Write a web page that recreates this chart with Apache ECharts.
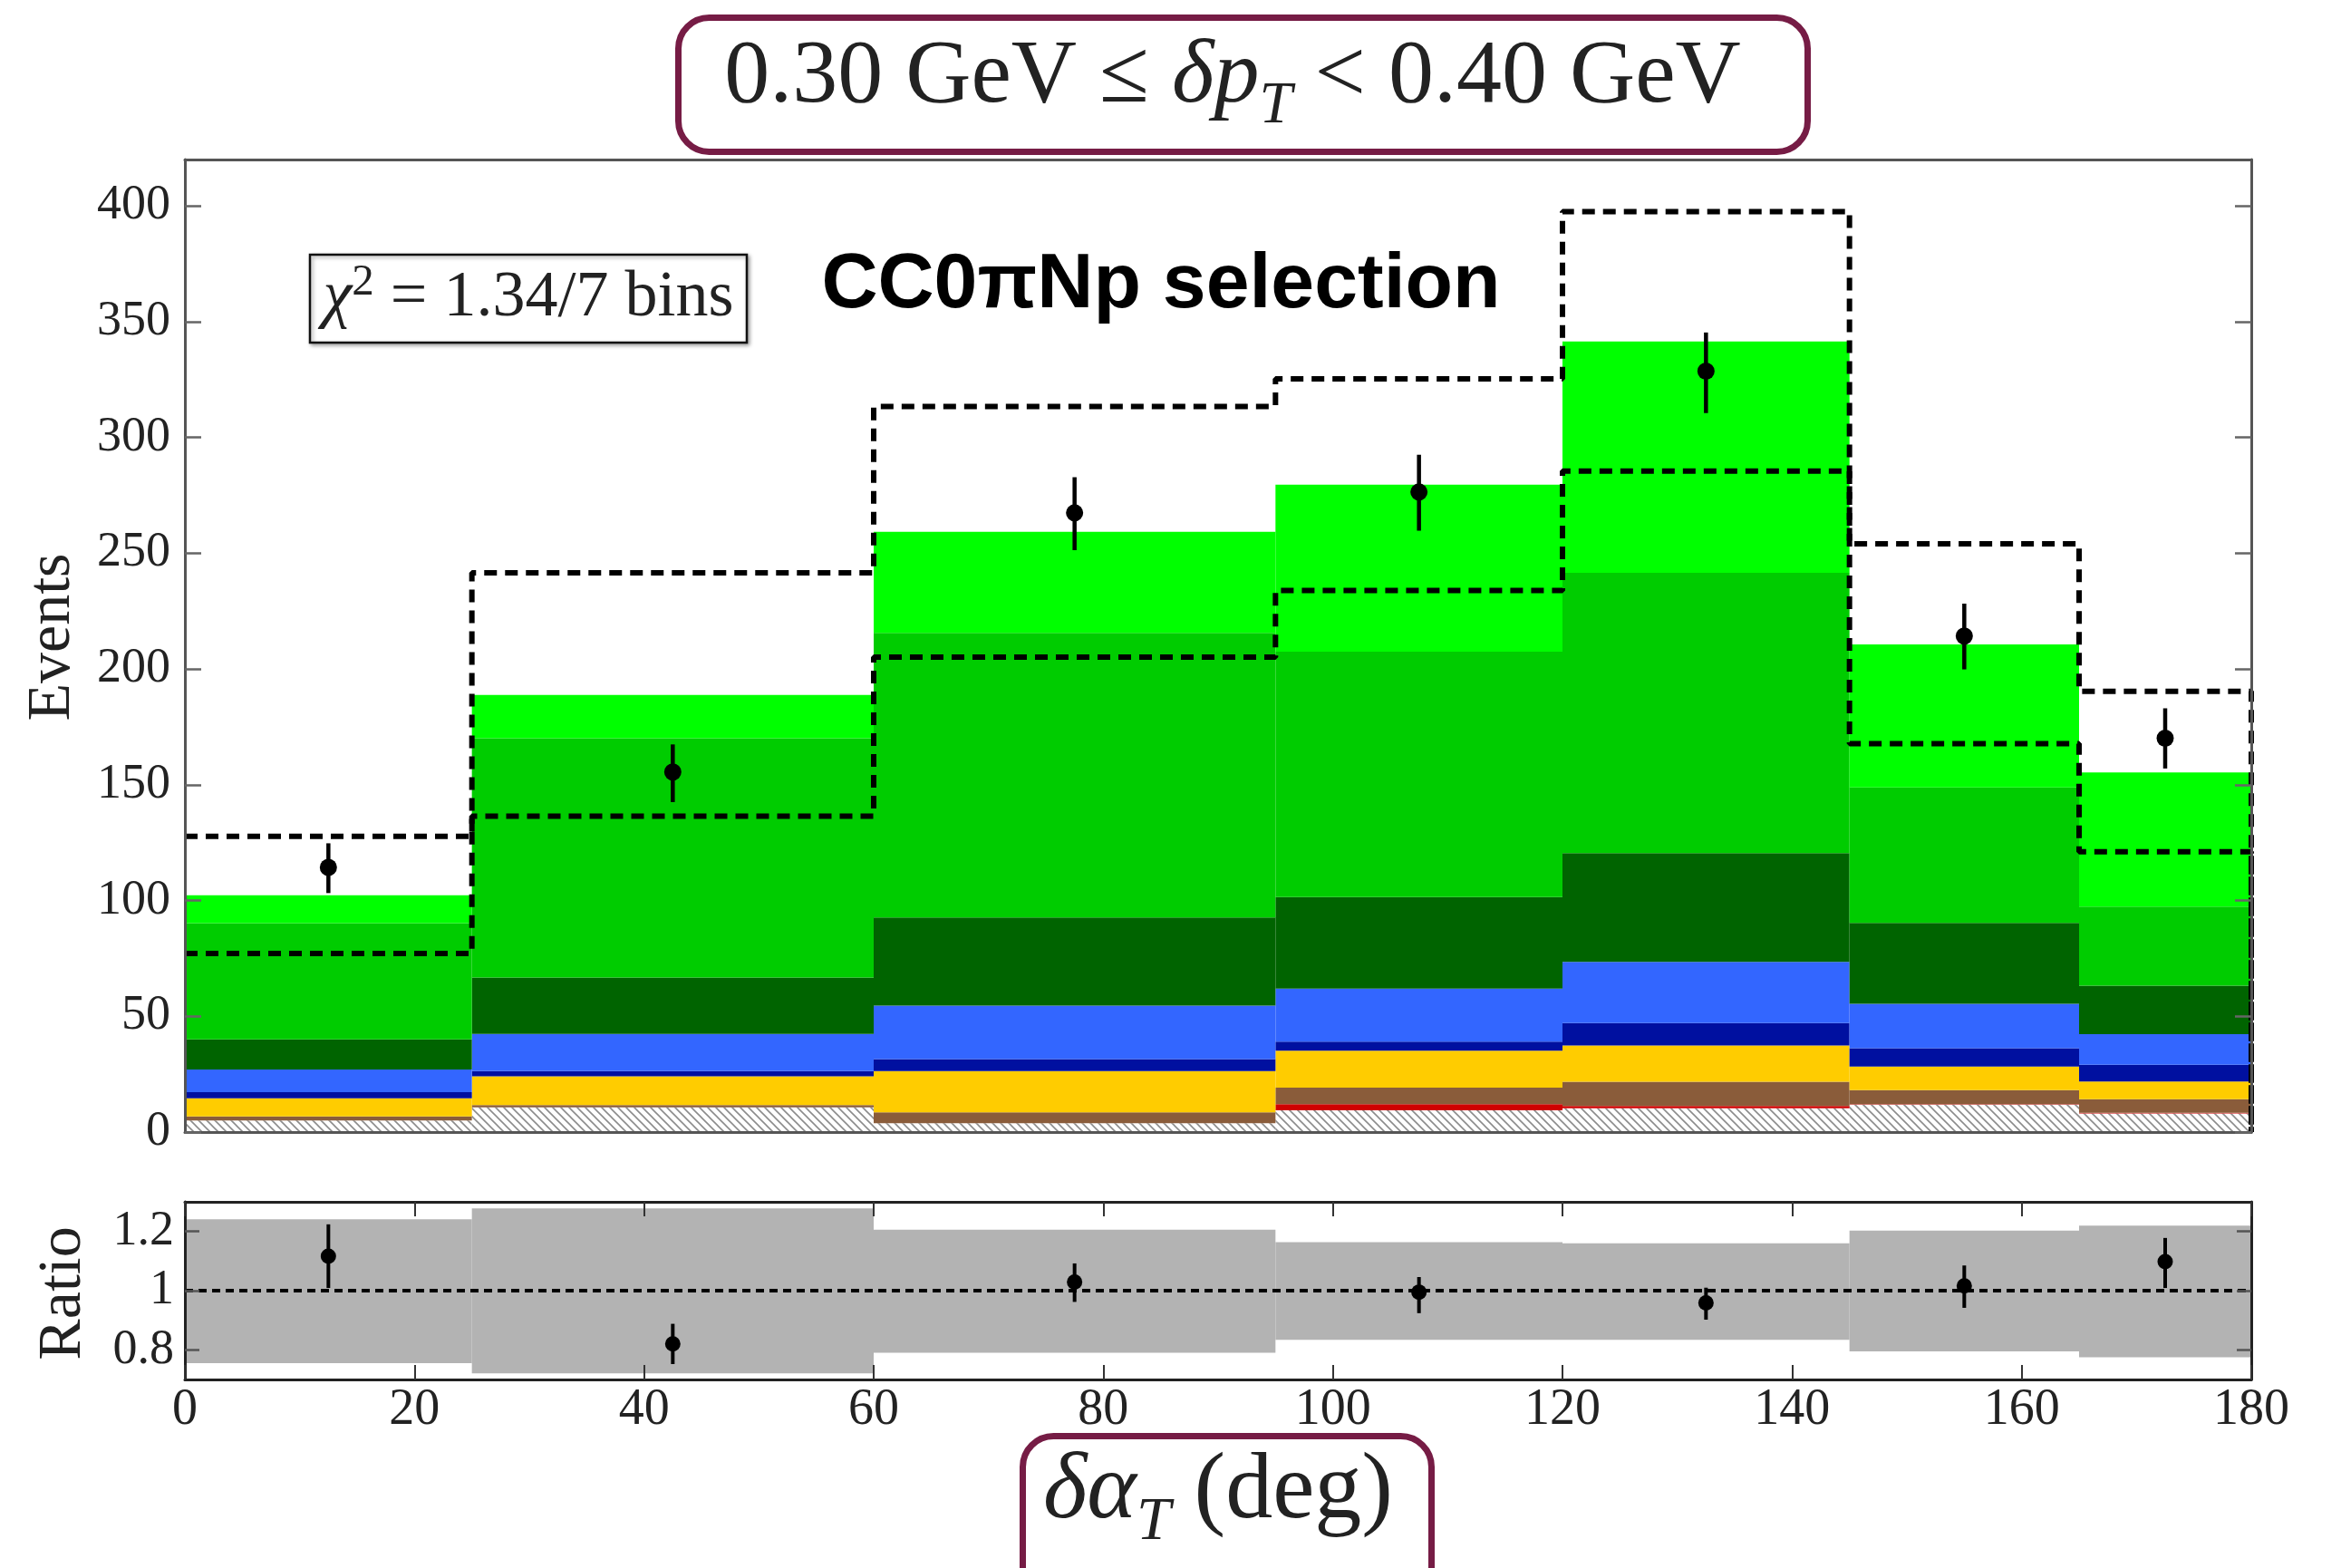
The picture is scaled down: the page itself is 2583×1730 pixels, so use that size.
<!DOCTYPE html>
<html><head><meta charset="utf-8">
<script src="https://cdn.jsdelivr.net/npm/echarts@6/dist/echarts.min.js"></script>
<style>html,body{margin:0;padding:0;background:#fff}#c{width:2583px;height:1730px}</style>
</head><body><div id="c"></div>
<script>
// ---------- DATA ----------
const binEdges = [0, 25, 60, 95, 120, 145, 165, 180];
// stacked contributions (bottom -> top)
const hatched    = [5.0, 10.7, 3.8, 9.4, 10.3, 11.8, 8.0];
const redLayer   = [0, 0, 0, 2.6, 1.0, 0.2, 0.3];
const brown      = [1.8, 0.9, 4.7, 7.2, 10.4, 6.1, 5.9];
const yellow     = [7.8, 12.5, 17.8, 15.9, 15.7, 10.2, 7.6];
const navy       = [2.6, 2.2, 5.2, 3.9, 9.7, 7.9, 7.3];
const blue       = [9.8, 16.1, 23.1, 22.9, 26.4, 19.2, 13.2];
const darkGreen  = [13.0, 24.3, 38.1, 39.6, 47.0, 34.9, 20.9];
const midGreen   = [50.2, 103.4, 122.9, 106.0, 121.0, 58.5, 34.2];
const lightGreen = [12.1, 18.7, 43.6, 72.1, 99.9, 61.8, 57.9];
const dashedUpper = [127.7, 241.5, 313.3, 325.3, 397.5, 254.0, 190.3];
const dashedLower = [77.1, 136.4, 205.1, 233.9, 285.4, 167.7, 121.0];
const dataX  = [12.5, 42.5, 77.5, 107.5, 132.5, 155, 172.5];
const dataY  = [114.3, 155.5, 267.4, 276.4, 328.6, 214.2, 170.1];
const dataLo = [103.2, 142.5, 251.3, 259.7, 310.5, 199.8, 157.0];
const dataHi = [124.7, 167.4, 282.8, 292.5, 345.3, 228.2, 183.0];
const ratioBandLo = [0.755, 0.721, 0.790, 0.834, 0.834, 0.795, 0.775];
const ratioBandHi = [1.241, 1.278, 1.206, 1.164, 1.160, 1.203, 1.220];
const ratioY  = [1.116, 0.820, 1.029, 0.995, 0.959, 1.016, 1.098];
const ratioLo = [1.009, 0.752, 0.962, 0.924, 0.902, 0.942, 1.009];
const ratioHi = [1.224, 0.888, 1.092, 1.046, 1.010, 1.085, 1.178];
const ratioRef = 1;
const yTicks = [0, 50, 100, 150, 200, 250, 300, 350, 400];
const ratioTicks = [0.8, 1, 1.2];
const xTickInterval = 20;

// ---------- HELPERS ----------
function hatchPattern() {
  const s = 9, c = document.createElement('canvas');
  c.width = s; c.height = s;
  const g = c.getContext('2d');
  g.fillStyle = '#fff'; g.fillRect(0, 0, s, s);
  g.strokeStyle = '#8c8c8c'; g.lineWidth = 1.6;
  g.beginPath();
  g.moveTo(0, 0); g.lineTo(s, s);
  g.moveTo(-2, s - 2); g.lineTo(2, s + 2);
  g.moveTo(s - 2, -2); g.lineTo(s + 2, 2);
  g.stroke();
  return c;
}
const layers = [
  {name: 'hatched', vals: hatched, fill: {image: hatchPattern(), repeat: 'repeat'}},
  {name: 'red', vals: redLayer, fill: '#d00000'},
  {name: 'brown', vals: brown, fill: '#8a5c3a'},
  {name: 'yellow', vals: yellow, fill: '#ffcc00'},
  {name: 'navy', vals: navy, fill: '#0010a0'},
  {name: 'blue', vals: blue, fill: '#3366ff'},
  {name: 'darkGreen', vals: darkGreen, fill: '#006400'},
  {name: 'midGreen', vals: midGreen, fill: '#00cc00'},
  {name: 'lightGreen', vals: lightGreen, fill: '#00ff00'}
];
function rectItem(fill) {
  return function (params, api) {
    const a = api.coord([api.value(0), api.value(2)]);
    const b = api.coord([api.value(1), api.value(3)]);
    return {type: 'rect', shape: {x: a[0], y: b[1], width: b[0] - a[0], height: a[1] - b[1]}, style: {fill: fill}};
  };
}
function errItem(r, lw) {
  return function (params, api) {
    const p = api.coord([api.value(0), api.value(1)]);
    const lo = api.coord([api.value(0), api.value(2)]);
    const hi = api.coord([api.value(0), api.value(3)]);
    return {type: 'group', children: [
      {type: 'line', shape: {x1: p[0], y1: lo[1], x2: p[0], y2: hi[1]}, style: {stroke: '#000', lineWidth: lw}},
      {type: 'circle', shape: {cx: p[0], cy: p[1], r: r}, style: {fill: '#000'}}
    ]};
  };
}
function stepPoints(vals) {
  const pts = [];
  vals.forEach((v, i) => { pts.push([binEdges[i], v]); pts.push([binEdges[i + 1], v]); });
  pts.push([binEdges[binEdges.length - 1], 0]);
  return pts;
}
const serif = '"Liberation Serif"';
const mctx = document.createElement('canvas').getContext('2d');
function fontStr(size, italic, family) { return (italic ? 'italic ' : '') + 'normal ' + size.toFixed(1) + 'px ' + family; }
function mathRun(pieces, cx, baseline, size, color) {
  const widths = pieces.map(p => { mctx.font = fontStr(size * (p.sc || 1), p.it, serif); return mctx.measureText(p.t).width; });
  const total = widths.reduce((a, b) => a + b, 0);
  let x = cx - total / 2;
  return pieces.map((p, i) => {
    const s = size * (p.sc || 1);
    const el = {type: 'text', x: x, y: baseline + (p.dy || 0) * size - 0.34 * s, z: 100,
      style: {text: p.t, font: fontStr(s, p.it, serif), fill: color, align: 'left', verticalAlign: 'middle'}};
    x += widths[i];
    return el;
  });
}

// ---------- SERIES ----------
const series = [];
const cum = binEdges.slice(0, -1).map(() => 0);
layers.forEach(L => {
  const data = L.vals.map((v, i) => { const d = [binEdges[i], binEdges[i + 1], cum[i], cum[i] + v]; cum[i] += v; return d; });
  series.push({type: 'custom', name: L.name, xAxisIndex: 0, yAxisIndex: 0, renderItem: rectItem(L.fill),
    encode: {x: [0, 1], y: [2, 3]}, data: data, silent: true, z: 2});
});
[dashedUpper, dashedLower].forEach(arr => {
  series.push({type: 'line', xAxisIndex: 0, yAxisIndex: 0, data: stepPoints(arr), symbol: 'none', silent: true, z: 3,
    lineStyle: {color: '#000', width: 6, type: [14, 9], cap: 'butt'}});
});
series.push({type: 'custom', xAxisIndex: 0, yAxisIndex: 0, renderItem: errItem(9.5, 4.5), silent: true, z: 4,
  encode: {x: 0, y: [1, 2, 3]}, data: dataX.map((x, i) => [x, dataY[i], dataLo[i], dataHi[i]])});
series.push({type: 'custom', xAxisIndex: 2, yAxisIndex: 2, renderItem: rectItem('#b3b3b3'), silent: true, z: 2,
  encode: {x: [0, 1], y: [2, 3]}, data: ratioBandLo.map((lo, i) => [binEdges[i], binEdges[i + 1], lo, ratioBandHi[i]])});
series.push({type: 'line', xAxisIndex: 2, yAxisIndex: 2, data: [[binEdges[0], ratioRef], [binEdges[binEdges.length - 1], ratioRef]],
  symbol: 'none', silent: true, z: 3, lineStyle: {color: '#000', width: 4, type: [9, 6], cap: 'butt'}});
series.push({type: 'custom', xAxisIndex: 2, yAxisIndex: 2, renderItem: errItem(8.5, 4), silent: true, z: 4,
  encode: {x: 0, y: [1, 2, 3]}, data: dataX.map((x, i) => [x, ratioY[i], ratioLo[i], ratioHi[i]])});

// ---------- AXES ----------
function frame(color) { return {show: true, onZero: false, lineStyle: {color: color, width: 3}}; }
const mainFrame = '#555', ratioFrame = '#222';
const xAxis = [
  {gridIndex: 0, type: 'value', min: 0, max: 180, position: 'bottom', z: 10, axisLine: frame(mainFrame), axisTick: {show: false}, axisLabel: {show: false}, splitLine: {show: false}},
  {gridIndex: 0, type: 'value', min: 0, max: 180, position: 'top', z: 10, axisLine: frame(mainFrame), axisTick: {show: false}, axisLabel: {show: false}, splitLine: {show: false}},
  {gridIndex: 1, type: 'value', min: 0, max: 180, interval: xTickInterval, position: 'bottom', z: 10, axisLine: frame(ratioFrame),
    axisTick: {show: true, inside: true, length: 16, lineStyle: {color: '#333', width: 2}},
    axisLabel: {fontFamily: serif, fontSize: 56, color: '#222', margin: 6, showMinLabel: true, showMaxLabel: true}, splitLine: {show: false}},
  {gridIndex: 1, type: 'value', min: 0, max: 180, interval: xTickInterval, position: 'top', z: 10, axisLine: frame(ratioFrame),
    axisTick: {show: true, inside: true, length: 16, lineStyle: {color: '#333', width: 2}}, axisLabel: {show: false}, splitLine: {show: false}}
];
const yAxis = [
  {gridIndex: 0, type: 'value', min: 0, max: 420, interval: 50, position: 'left', z: 10, axisLine: frame(mainFrame),
    axisTick: {show: true, inside: true, length: 18, customValues: yTicks, lineStyle: {color: '#666', width: 2.5}},
    axisLabel: {customValues: yTicks, fontFamily: serif, fontSize: 54, color: '#222', margin: 16}, splitLine: {show: false}},
  {gridIndex: 0, type: 'value', min: 0, max: 420, interval: 50, position: 'right', z: 10, axisLine: frame(mainFrame),
    axisTick: {show: true, inside: true, length: 18, customValues: yTicks, lineStyle: {color: '#666', width: 2.5}},
    axisLabel: {show: false}, splitLine: {show: false}},
  {gridIndex: 1, type: 'value', min: 0.7, max: 1.3, interval: 0.1, position: 'left', z: 10, axisLine: frame(ratioFrame),
    axisTick: {show: true, inside: true, length: 16, customValues: ratioTicks, lineStyle: {color: '#555', width: 2.5}},
    axisLabel: {customValues: ratioTicks, fontFamily: serif, fontSize: 54, color: '#222', margin: 12}, splitLine: {show: false}},
  {gridIndex: 1, type: 'value', min: 0.7, max: 1.3, interval: 0.1, position: 'right', z: 10, axisLine: frame(ratioFrame),
    axisTick: {show: true, inside: true, length: 16, customValues: ratioTicks, lineStyle: {color: '#555', width: 2.5}},
    axisLabel: {show: false}, splitLine: {show: false}}
];

// ---------- GRAPHICS / TEXT ----------
const maroon = '#761c45';
let graphics = [
  {type: 'rect', shape: {x: 748.5, y: 19.5, width: 1246, height: 148, r: 34}, style: {fill: '#fff', stroke: maroon, lineWidth: 7}, z: 90},
  {type: 'rect', shape: {x: 1128.5, y: 1584.5, width: 451, height: 220, r: 34}, style: {fill: '#fff', stroke: maroon, lineWidth: 7}, z: 90},
  {type: 'rect', shape: {x: 342, y: 281, width: 482, height: 97}, style: {fill: '#fff', stroke: '#111', lineWidth: 2.5, shadowBlur: 4, shadowColor: 'rgba(0,0,0,0.35)', shadowOffsetX: 2, shadowOffsetY: 2}, z: 90},
  {type: 'text', x: 1281, y: 315, z: 100, style: {text: 'CC0πNp selection', font: 'bold 86px "Liberation Sans"', fill: '#000', align: 'center', verticalAlign: 'middle'}},
  {type: 'text', x: 58, y: 703, rotation: Math.PI / 2, z: 100, style: {text: 'Events', font: '68px ' + serif, fill: '#222', align: 'center', verticalAlign: 'middle'}},
  {type: 'text', x: 70, y: 1427, rotation: Math.PI / 2, z: 100, style: {text: 'Ratio', font: '68px ' + serif, fill: '#222', align: 'center', verticalAlign: 'middle'}}
];
graphics = graphics.concat(mathRun([
  {t: '0.30 GeV ≤ '}, {t: 'δ', it: true}, {t: 'p', it: true}, {t: 'T', it: true, sc: 0.65, dy: 0.2}, {t: ' < 0.40 GeV'}
], 1360, 120, 100, '#222'));
graphics = graphics.concat(mathRun([
  {t: 'χ', it: true}, {t: '2', sc: 0.68, dy: -0.35}, {t: ' = 1.34/7 bins'}
], 583, 354, 72, '#222'));
graphics = graphics.concat(mathRun([
  {t: 'δ', it: true}, {t: 'α', it: true}, {t: 'T', it: true, sc: 0.65, dy: 0.2}, {t: ' (deg)'}
], 1344, 1682, 104, '#222'));

const chart = echarts.init(document.getElementById('c'), null, {renderer: 'canvas'});
chart.setOption({
  animation: false,
  backgroundColor: '#fff',
  grid: [
    {left: 204, top: 176, width: 2280, height: 1073, outerBoundsMode: 'none'},
    {left: 204, top: 1326, width: 2280, height: 196, outerBoundsMode: 'none'}
  ],
  xAxis: xAxis,
  yAxis: yAxis,
  series: series,
  graphic: graphics
});
</script></body></html>
